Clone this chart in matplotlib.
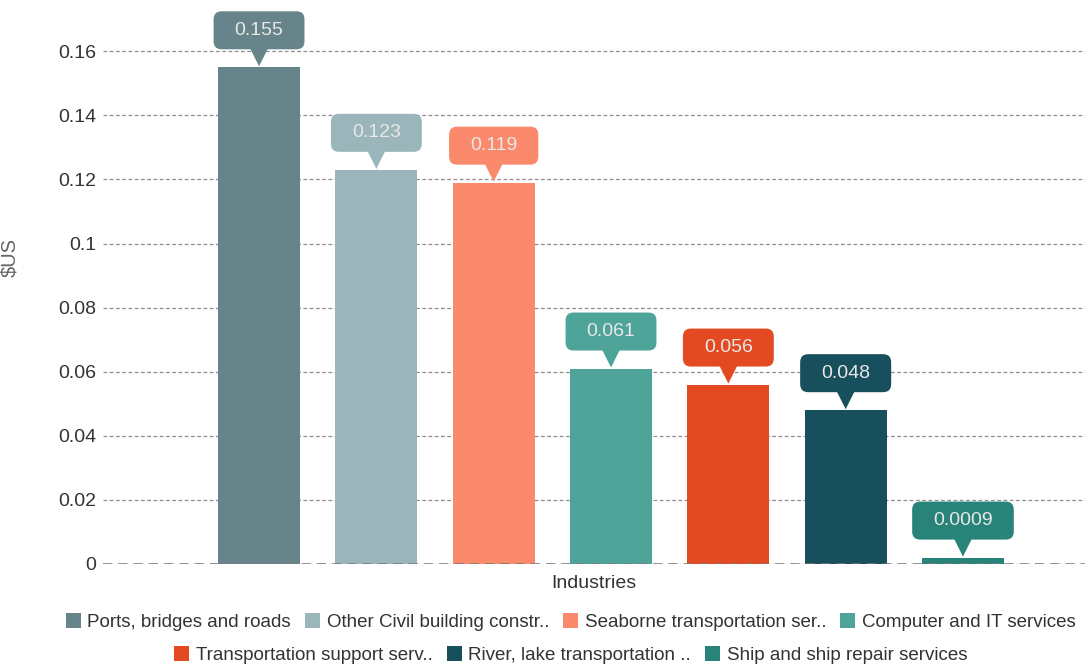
import numpy as np
import matplotlib.pyplot as plt
from matplotlib.patches import FancyBboxPatch, Polygon, Patch
from matplotlib.transforms import IdentityTransform

# ── Data ──────────────────────────────────────────────────────────────
industries = ["Ports, bridges and roads", "Other Civil building constr..",
              "Seaborne transportation ser..", "Computer and IT services",
              "Transportation support serv..", "River, lake transportation ..",
              "Ship and ship repair services"]
values = [0.155, 0.123, 0.119, 0.061, 0.056, 0.048, 0.0009]
value_labels = ["0.155", "0.123", "0.119", "0.061", "0.056", "0.048", "0.0009"]
yticks = [0, 0.02, 0.04, 0.06, 0.08, 0.1, 0.12, 0.14, 0.16]
ytick_labels = ["0", "0.02", "0.04", "0.06", "0.08", "0.1", "0.12", "0.14", "0.16"]

# ── Style ─────────────────────────────────────────────────────────────
COLORS = ["#668489", "#9bb6ba", "#fa8a6b", "#4fa49a", "#e44a21", "#174f5c", "#288378"]
C_TEXT = "#333333"
C_GRID = "#8f8f8f"
plt.rcParams["font.family"] = ["Liberation Sans", "DejaVu Sans"]

W, H = 1085, 667
fig = plt.figure(figsize=(W / 100, H / 100), dpi=100)
ax = fig.add_axes([103 / W, 1 - 564 / H, 982 / W, 564 / H])

x = np.arange(len(values))
heights = np.maximum(values, 0.002)  # keep tiny bars visible, as the original does
ax.bar(x, heights, width=0.7, color=COLORS, zorder=2)

ax.set_xlim(-1.33, 7.04)
ax.set_ylim(0, 0.176)
ax.set_yticks(yticks)
ax.set_yticklabels(ytick_labels, fontsize=14, color=C_TEXT)
ax.set_xticks([])
ax.tick_params(axis="y", length=0, pad=5)
for s in ax.spines.values():
    s.set_visible(False)
ax.yaxis.grid(True, linestyle=(0, (3, 2)), color=C_GRID, linewidth=0.9, zorder=0)
ax.axhline(0, linestyle=(0, (6, 4)), color="#777777", linewidth=1.1, zorder=3)
ax.set_axisbelow(True)

ax.set_xlabel("Industries", fontsize=14, color=C_TEXT, labelpad=8)
ax.set_ylabel("$US", fontsize=14.5, color="#666666")
ax.yaxis.set_label_coords(-0.085, 0.543)

# ── Callout labels ────────────────────────────────────────────────────
fig.canvas.draw()
renderer = fig.canvas.get_renderer()
r = 8
bh = 38
for xi, v, lab, c in zip(x, heights, value_labels, COLORS):
    px, py = ax.transData.transform((xi, v))
    tip = py + 1
    cy = tip + 36
    t = fig.text(px, cy, lab, transform=IdentityTransform(), ha="center",
                 va="center", fontsize=14, color="#e8e8e8", zorder=5)
    bw = t.get_window_extent(renderer).width + 42
    box = FancyBboxPatch((px - bw / 2 + r, cy - bh / 2 + r), bw - 2 * r, bh - 2 * r,
                         boxstyle=f"round,pad={r}", fc=c, ec="none",
                         transform=IdentityTransform(), zorder=3)
    tri = Polygon([(px - 9, cy - bh / 2 + 1), (px + 9, cy - bh / 2 + 1), (px, tip)],
                  closed=True, fc=c, ec="none", transform=IdentityTransform(), zorder=3)
    fig.add_artist(box)
    fig.add_artist(tri)

# ── Legend (two centred rows) ─────────────────────────────────────────
handles = [Patch(facecolor=c, edgecolor="none") for c in COLORS]
leg_kw = dict(frameon=False, fontsize=13.5, handlelength=0.8, handleheight=0.8,
              handletextpad=0.35, columnspacing=0.75, borderaxespad=0, borderpad=0)
leg1 = fig.legend(handles[:4], industries[:4], ncol=4, loc="center",
                  bbox_to_anchor=(0.526, 1 - 622 / H), **leg_kw)
leg2 = fig.legend(handles[4:], industries[4:], ncol=3, loc="center",
                  bbox_to_anchor=(0.526, 1 - 655 / H), **leg_kw)
for leg in (leg1, leg2):
    for txt in leg.get_texts():
        txt.set_color(C_TEXT)

fig.savefig("out.png", dpi=100, facecolor="white")
